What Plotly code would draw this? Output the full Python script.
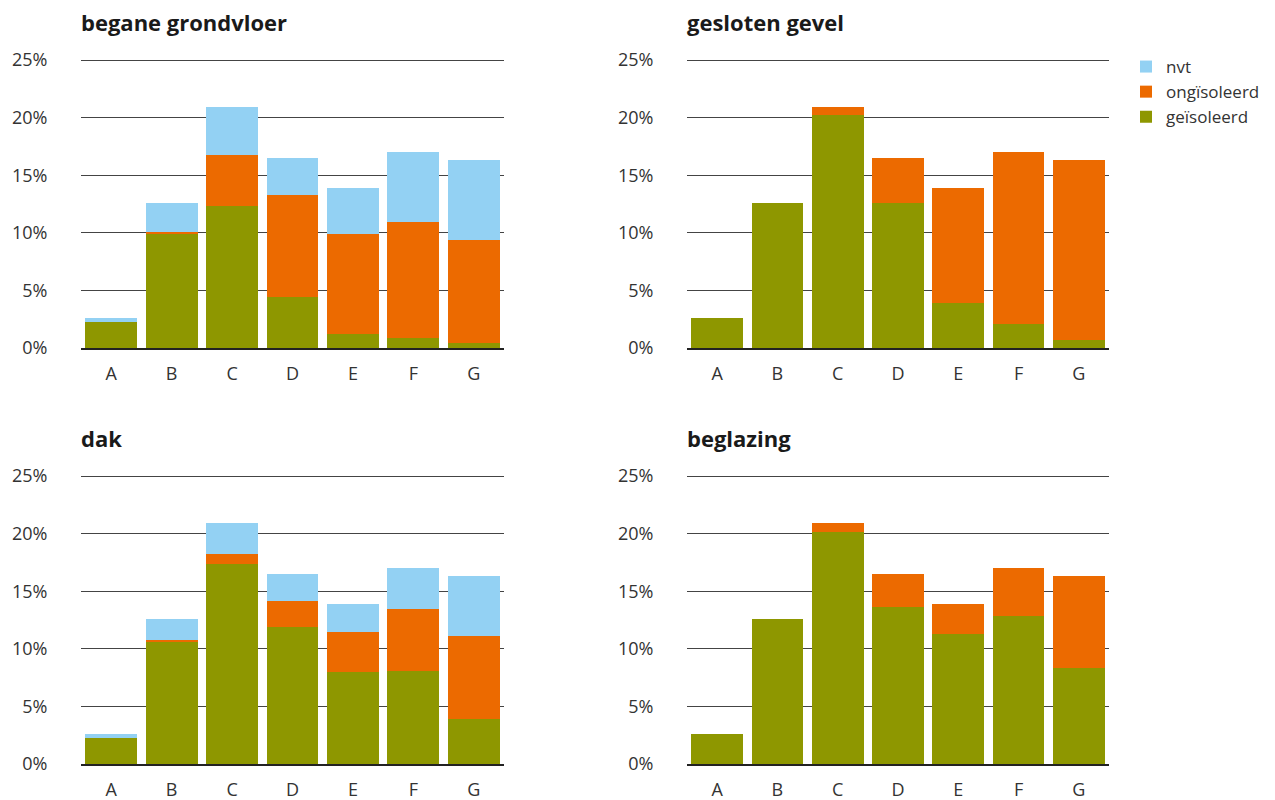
import plotly.graph_objects as go

categories = ["A", "B", "C", "D", "E", "F", "G"]
series_names = ["geïsoleerd", "ongïsoleerd", "nvt"]
colors = {"geïsoleerd": "#8E9700", "ongïsoleerd": "#EC6A00", "nvt": "#93D1F3"}

titles = ["begane grondvloer", "gesloten gevel", "dak", "beglazing"]

grond_geisoleerd = [2.25, 9.95, 12.35, 4.45, 1.25, 0.9, 0.4]
grond_ongisoleerd = [0, 0.15, 4.4, 8.8, 8.65, 10.05, 9.0]
grond_nvt = [0.35, 2.5, 4.15, 3.25, 4.0, 6.05, 6.9]

gevel_geisoleerd = [2.6, 12.6, 20.2, 12.6, 3.9, 2.1, 0.7]
gevel_ongisoleerd = [0, 0, 0.7, 3.9, 10.0, 14.9, 15.6]
gevel_nvt = [0, 0, 0, 0, 0, 0, 0]

dak_geisoleerd = [2.25, 10.65, 17.4, 11.85, 8.0, 8.05, 3.9]
dak_ongisoleerd = [0, 0.15, 0.8, 2.3, 3.45, 5.4, 7.2]
dak_nvt = [0.35, 1.8, 2.7, 2.35, 2.45, 3.55, 5.2]

glas_geisoleerd = [2.6, 12.6, 20.15, 13.6, 11.3, 12.85, 8.35]
glas_ongisoleerd = [0, 0, 0.75, 2.9, 2.6, 4.15, 7.95]
glas_nvt = [0, 0, 0, 0, 0, 0, 0]

y_ticks = [0, 5, 10, 15, 20, 25]
y_ticktext = ["0%", "5%", "10%", "15%", "20%", "25%"]

panels = [
    (grond_geisoleerd, grond_ongisoleerd, grond_nvt),
    (gevel_geisoleerd, gevel_ongisoleerd, gevel_nvt),
    (dak_geisoleerd, dak_ongisoleerd, dak_nvt),
    (glas_geisoleerd, glas_ongisoleerd, glas_nvt),
]

OFF = 8  # default page body margin
W, H = 1275 - OFF, 800 - OFF
YMAX = 25.5
# pixel boxes in window coords (left, right, y of 25%, y of 0%)
boxes = [(81, 504, 60, 348), (687, 1109, 60, 348), (81, 504, 476, 764), (687, 1109, 476, 764)]

fig = go.Figure()
font_family = "Open Sans, Noto Sans, sans-serif"

for i, (vals, box) in enumerate(zip(panels, boxes)):
    n = i + 1
    xa = "x" if n == 1 else f"x{n}"
    ya = "y" if n == 1 else f"y{n}"
    for name, v in zip(series_names, vals):
        fig.add_trace(go.Bar(
            x=categories, y=v, name=name, marker=dict(color=colors[name], line=dict(width=0)),
            xaxis=xa, yaxis=ya, showlegend=(n == 1), legendgroup=name,
            hovertemplate="%{x}: %{y}%<extra>" + name + "</extra>",
        ))
    l, r, t, b = box
    pxper = (b - t) / 25.0
    top = b - YMAX * pxper
    xkey = "xaxis" if n == 1 else f"xaxis{n}"
    ykey = "yaxis" if n == 1 else f"yaxis{n}"
    fig.update_layout(**{
        xkey: dict(domain=[(l - OFF) / W, (r - OFF) / W], anchor=ya, range=[-0.5, 6.5], showgrid=False,
                   showline=True, linecolor="#222", linewidth=1.5,
                   ticks="outside", ticklen=9, tickcolor="rgba(0,0,0,0)",
                   tickfont=dict(size=18, color="#333", family=font_family),
                   automargin=False, fixedrange=True),
        ykey: dict(domain=[1 - (b - OFF) / H, 1 - (top - OFF) / H], anchor=xa, range=[0, YMAX],
                   tickvals=y_ticks, ticktext=y_ticktext, showgrid=True,
                   gridcolor="#444", gridwidth=1, zeroline=False, showline=False,
                   ticks="outside", ticklen=29, tickcolor="rgba(0,0,0,0)",
                   tickfont=dict(size=18, color="#333", family=font_family),
                   automargin=False, fixedrange=True),
    })
    fig.add_annotation(text="<b>" + titles[i] + "</b>", xref="paper", yref="paper",
                       x=(l - 2 - OFF) / W, y=1 - (t - 38 - OFF) / H, xanchor="left", yanchor="middle",
                       showarrow=False, font=dict(size=22, color="#1a1a1a", family=font_family))

fig.update_layout(
    width=W, height=H, barmode="stack", bargap=0.14,
    plot_bgcolor="white", paper_bgcolor="white",
    margin=dict(l=0, r=0, t=0, b=0),
    legend=dict(x=(1126 - OFF) / W, y=1 - (49 - OFF) / H, xanchor="left", yanchor="top",
                traceorder="reversed", font=dict(size=17, color="#333", family=font_family),
                itemwidth=30, tracegroupgap=0, bgcolor="rgba(0,0,0,0)"),
    showlegend=True,
)

fig.write_html("out.html")
